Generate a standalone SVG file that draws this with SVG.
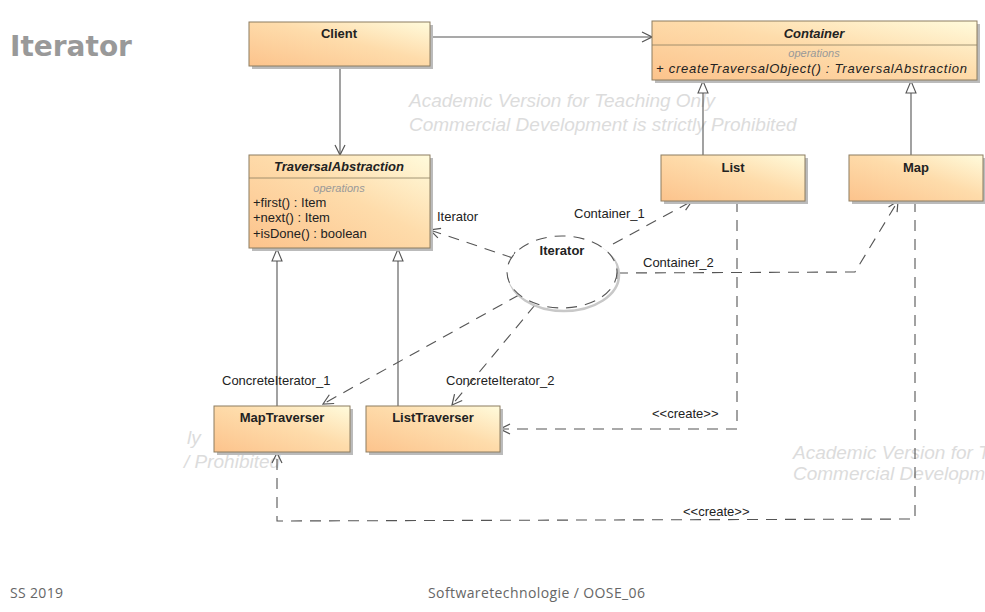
<svg xmlns="http://www.w3.org/2000/svg" width="985" height="612" viewBox="0 0 985 612">
<defs>
<linearGradient id="g" x1="0" y1="1" x2="1" y2="0">
<stop offset="0" stop-color="#fcc38c"/>
<stop offset="0.55" stop-color="#fedcab"/>
<stop offset="1" stop-color="#fffbdc"/>
</linearGradient>
<marker id="open" viewBox="0 0 12 12" refX="11" refY="6" markerWidth="12" markerHeight="12" markerUnits="userSpaceOnUse" orient="auto">
<path d="M1,1 L11,6 L1,11" fill="none" stroke="#555" stroke-width="1.2"/>
</marker>
<marker id="tri" viewBox="0 0 14 14" refX="13" refY="7" markerWidth="14" markerHeight="14" markerUnits="userSpaceOnUse" orient="auto">
<path d="M1,2 L13,7 L1,12 Z" fill="#fff" stroke="#555" stroke-width="1.1"/>
</marker>
</defs>
<style>
.box{fill:url(#g);stroke:#8c7d60;stroke-width:1}
.sh{fill:#bbb}
.name{font-family:"Liberation Sans",Arial,sans-serif;font-size:13px;font-weight:bold;fill:#222;text-anchor:middle}
.it{font-style:italic}
.ops{font-family:"Liberation Sans",Arial,sans-serif;font-size:11px;font-style:italic;fill:#999;text-anchor:middle}
.attr{font-family:"Liberation Sans",Arial,sans-serif;font-size:13px;fill:#222}
.lbl{font-family:"Liberation Sans",Arial,sans-serif;font-size:13px;fill:#222}
.wm{font-family:"Liberation Sans",Arial,sans-serif;font-size:19px;font-style:italic;fill:#dcdcdc}
.solid{fill:none;stroke:#555;stroke-width:1.1}
.dash{fill:none;stroke:#555;stroke-width:1.1;stroke-dasharray:11,8}
.div{stroke:#8c7d60;stroke-width:0.8}
</style>
<rect width="985" height="612" fill="#fff"/>

<text x="10" y="56" font-family="DejaVu Sans,Verdana,sans-serif" font-size="28" font-weight="bold" fill="#999">Iterator</text>

<g id="watermarks">
<text class="wm" x="409" y="107">Academic Version for Teaching Only</text>
<text class="wm" x="409" y="131">Commercial Development is strictly Prohibited</text>
<text class="wm" x="187" y="444">ly</text>
<text class="wm" x="184" y="468">/ Prohibited</text>
<text class="wm" x="793" y="459">Academic Version for T</text>
<text class="wm" x="793" y="480">Commercial Developm</text>
</g>

<g id="connectors">
<line class="solid" x1="430" y1="37" x2="652" y2="37" marker-end="url(#open)"/>
<line class="solid" x1="340" y1="66" x2="340" y2="155" marker-end="url(#open)"/>
<line class="solid" x1="703" y1="155" x2="703" y2="81" marker-end="url(#tri)"/>
<line class="solid" x1="911" y1="155" x2="911" y2="81" marker-end="url(#tri)"/>
<line class="solid" x1="277" y1="406" x2="277" y2="249" marker-end="url(#tri)"/>
<line class="solid" x1="398" y1="406" x2="398" y2="249" marker-end="url(#tri)"/>
<line class="dash" x1="513" y1="258" x2="430" y2="230" marker-end="url(#open)"/>
<line class="solid" x1="511" y1="264" x2="515" y2="252"/>
<line class="dash" x1="613" y1="244" x2="692" y2="201" marker-end="url(#open)"/>
<polyline class="dash" points="617,273 855,272 898,201" marker-end="url(#open)"/>
<line class="solid" x1="617" y1="267" x2="617" y2="279"/>
<line class="dash" x1="519" y1="295" x2="323" y2="404" marker-end="url(#open)"/>
<line class="dash" x1="535" y1="305" x2="452" y2="405" marker-end="url(#open)"/>
<polyline class="dash" points="737,201 737,429 500,429" marker-end="url(#open)"/>
<polyline class="dash" points="915,201 915,519 277,521 277,453" marker-end="url(#open)"/>
<text class="lbl" x="437" y="221">Iterator</text>
<text class="lbl" x="574" y="218">Container_1</text>
<text class="lbl" x="643" y="267">Container_2</text>
<text class="lbl" x="222" y="385">ConcreteIterator_1</text>
<text class="lbl" x="446" y="385">ConcreteIterator_2</text>
<text class="lbl" x="652" y="418" font-size="12.5">&lt;&lt;create&gt;&gt;</text>
<text class="lbl" x="683" y="516" font-size="12.5">&lt;&lt;create&gt;&gt;</text>
</g>

<g id="Client">
<rect class="sh" x="252" y="25" width="181" height="44"/>
<rect class="box" x="249" y="22" width="181" height="44"/>
<text class="name" x="339" y="38">Client</text>
</g>

<g id="Container">
<rect class="sh" x="655" y="24" width="325" height="59"/>
<rect class="box" x="652" y="21" width="325" height="59"/>
<text class="name it" x="814" y="38">Container</text>
<line class="div" x1="652" y1="45" x2="977" y2="45"/>
<text class="ops" x="814" y="57">operations</text>
<text class="attr" x="656" y="73" font-style="italic" textLength="311">+ createTraversalObject()  : TraversalAbstraction</text>
</g>

<g id="TraversalAbstraction">
<rect class="sh" x="252" y="158" width="181" height="93"/>
<rect class="box" x="249" y="155" width="181" height="93"/>
<text class="name it" x="339" y="171">TraversalAbstraction</text>
<line class="div" x1="249" y1="178" x2="430" y2="178"/>
<text class="ops" x="339" y="192">operations</text>
<text class="attr" x="253" y="207">+first() : Item</text>
<text class="attr" x="253" y="222">+next() : Item</text>
<text class="attr" x="253" y="238">+isDone() : boolean</text>
</g>

<g id="List">
<rect class="sh" x="664" y="158" width="144" height="46"/>
<rect class="box" x="661" y="155" width="144" height="46"/>
<text class="name" x="733" y="172">List</text>
</g>

<g id="Map">
<rect class="sh" x="852" y="158" width="134" height="46"/>
<rect class="box" x="849" y="155" width="134" height="46"/>
<text class="name" x="916" y="172">Map</text>
</g>

<g id="IteratorCollab">
<ellipse cx="564" cy="275" rx="55" ry="36" fill="none" stroke="#c8c8c8" stroke-width="2.5"/>
<ellipse cx="562" cy="272" rx="55" ry="36" fill="#fff" stroke="#555" stroke-width="1.1" stroke-dasharray="11,8"/>
<text class="name" x="562" y="255">Iterator</text>
</g>

<g id="MapTraverser">
<rect class="sh" x="217" y="409" width="136" height="46"/>
<rect class="box" x="214" y="406" width="136" height="46"/>
<text class="name" x="282" y="422">MapTraverser</text>
</g>

<g id="ListTraverser">
<rect class="sh" x="369" y="409" width="134" height="46"/>
<rect class="box" x="366" y="406" width="134" height="46"/>
<text class="name" x="433" y="422">ListTraverser</text>
</g>

<text x="10" y="598" font-family="Open Sans,Liberation Sans,sans-serif" font-size="14" fill="#666" textLength="53">SS 2019</text>
<text x="428" y="598" font-family="Open Sans,Liberation Sans,sans-serif" font-size="14" fill="#666" textLength="217">Softwaretechnologie / OOSE_06</text>
</svg>
